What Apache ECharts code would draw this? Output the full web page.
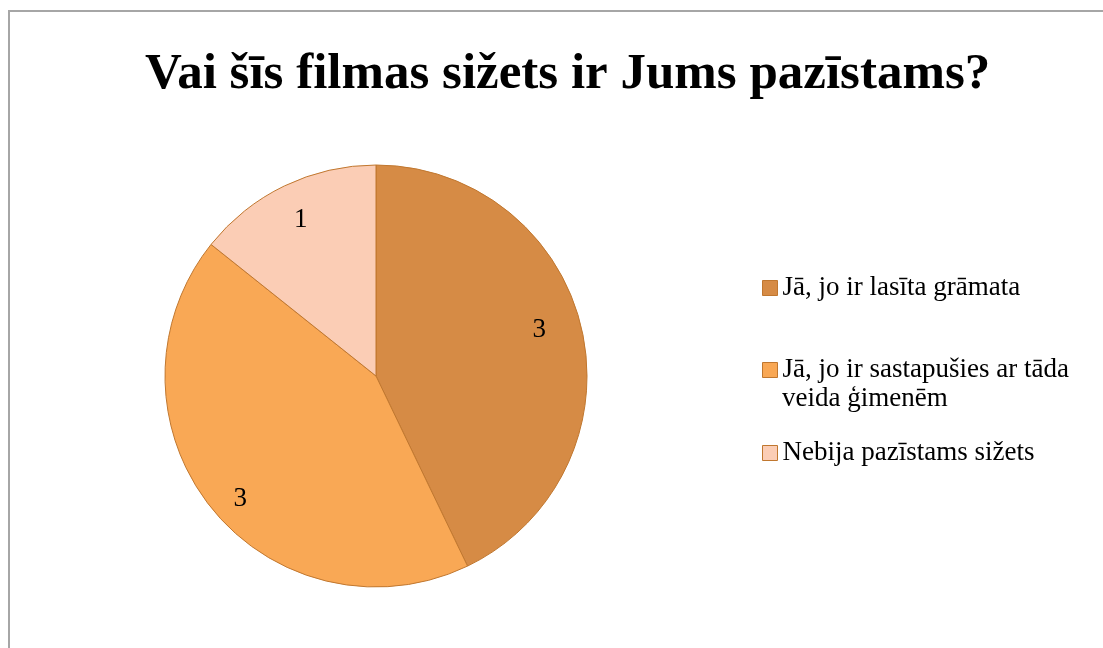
<!DOCTYPE html>
<html>
<head>
<meta charset="utf-8">
<script src="https://cdn.jsdelivr.net/npm/echarts@6/dist/echarts.min.js"></script>
<style>
    html, body { margin: 0; padding: 0; background: #fff; overflow: hidden; }
    #frame { position: absolute; left: 8px; top: 10px; width: 1120px; height: 660px; border: 2px solid #a6a6a6; }
    #chart { position: absolute; left: 0; top: 0; width: 1103px; height: 648px; }
</style>
</head>
<body>
<div id="frame"></div>
<div id="chart"></div>
<script>
    var titleText = 'Vai šīs filmas sižets ir Jums pazīstams?';
    var categories = ['Jā, jo ir lasīta grāmata', 'Jā, jo ir sastapušies ar tāda veida ģimenēm', 'Nebija pazīstams sižets'];
    // legend text of the long item is broken over two lines like in the original
    var legendLines = [['Jā, jo ir lasīta grāmata'], ['Jā, jo ir sastapušies ar tāda', 'veida ģimenēm'], ['Nebija pazīstams sižets']];
    var values = [3, 3, 1];
    var colors = ['#d68b45', '#f9a855', '#fbcdb5'];
    var serif = 'Liberation Serif';

    var pieData = categories.map(function (name, i) {
        return { name: name, value: values[i], itemStyle: { color: colors[i] } };
    });

    // small nudges of the value labels
    var labelNudge = [[-6, -7], [0, 15], [0, 0]];

    // one legend per item, spacing in the original is uneven
    var legendTops = [267, 349, 432];
    var legends = categories.map(function (name, i) {
        return {
            data: [name],
            left: 757,
            top: legendTops[i],
            icon: 'rect',
            itemWidth: 15,
            itemHeight: 15,
            selectedMode: false,
            itemStyle: { borderColor: '#c0772f', borderWidth: 1 },
            formatter: function () { return legendLines[i][0]; },
            textStyle: { fontFamily: serif, fontSize: 27, color: '#000', lineHeight: 32 }
        };
    });

    var chart = echarts.init(document.getElementById('chart'));
    chart.setOption({
        animation: false,
        title: {
            text: titleText,
            left: 140,
            top: 44,
            textStyle: { fontFamily: serif, fontWeight: 'bold', fontSize: 51, color: '#000' }
        },
        legend: legends,
        graphic: [{
            type: 'text',
            left: 782,
            top: legendTops[1] + 36,
            style: { text: legendLines[1][1], font: '27px "Liberation Serif"', fill: '#000' }
        }],
        series: [{
            type: 'pie',
            center: [376, 376],
            radius: [0, 211],
            startAngle: 90,
            clockwise: true,
            data: pieData,
            label: { show: false },
            labelLine: { show: false },
            itemStyle: { borderColor: '#c0772f', borderWidth: 1 },
            emphasis: { disabled: true }
        }, {
            // label ring, puts the numbers at ~0.8 of the radius
            type: 'pie',
            center: [376, 376],
            radius: [130, 211],
            startAngle: 90,
            clockwise: true,
            silent: true,
            data: pieData.map(function (d) { return { name: d.name, value: d.value }; }),
            itemStyle: { color: 'rgba(0,0,0,0)', borderWidth: 0 },
            label: { show: true, position: 'inside', formatter: '{c}', fontFamily: serif, fontSize: 27, color: '#000' },
            labelLayout: function (p) {
                return { dx: labelNudge[p.dataIndex][0], dy: labelNudge[p.dataIndex][1] };
            },
            labelLine: { show: false },
            emphasis: { disabled: true }
        }]
    });
</script>
</body>
</html>
